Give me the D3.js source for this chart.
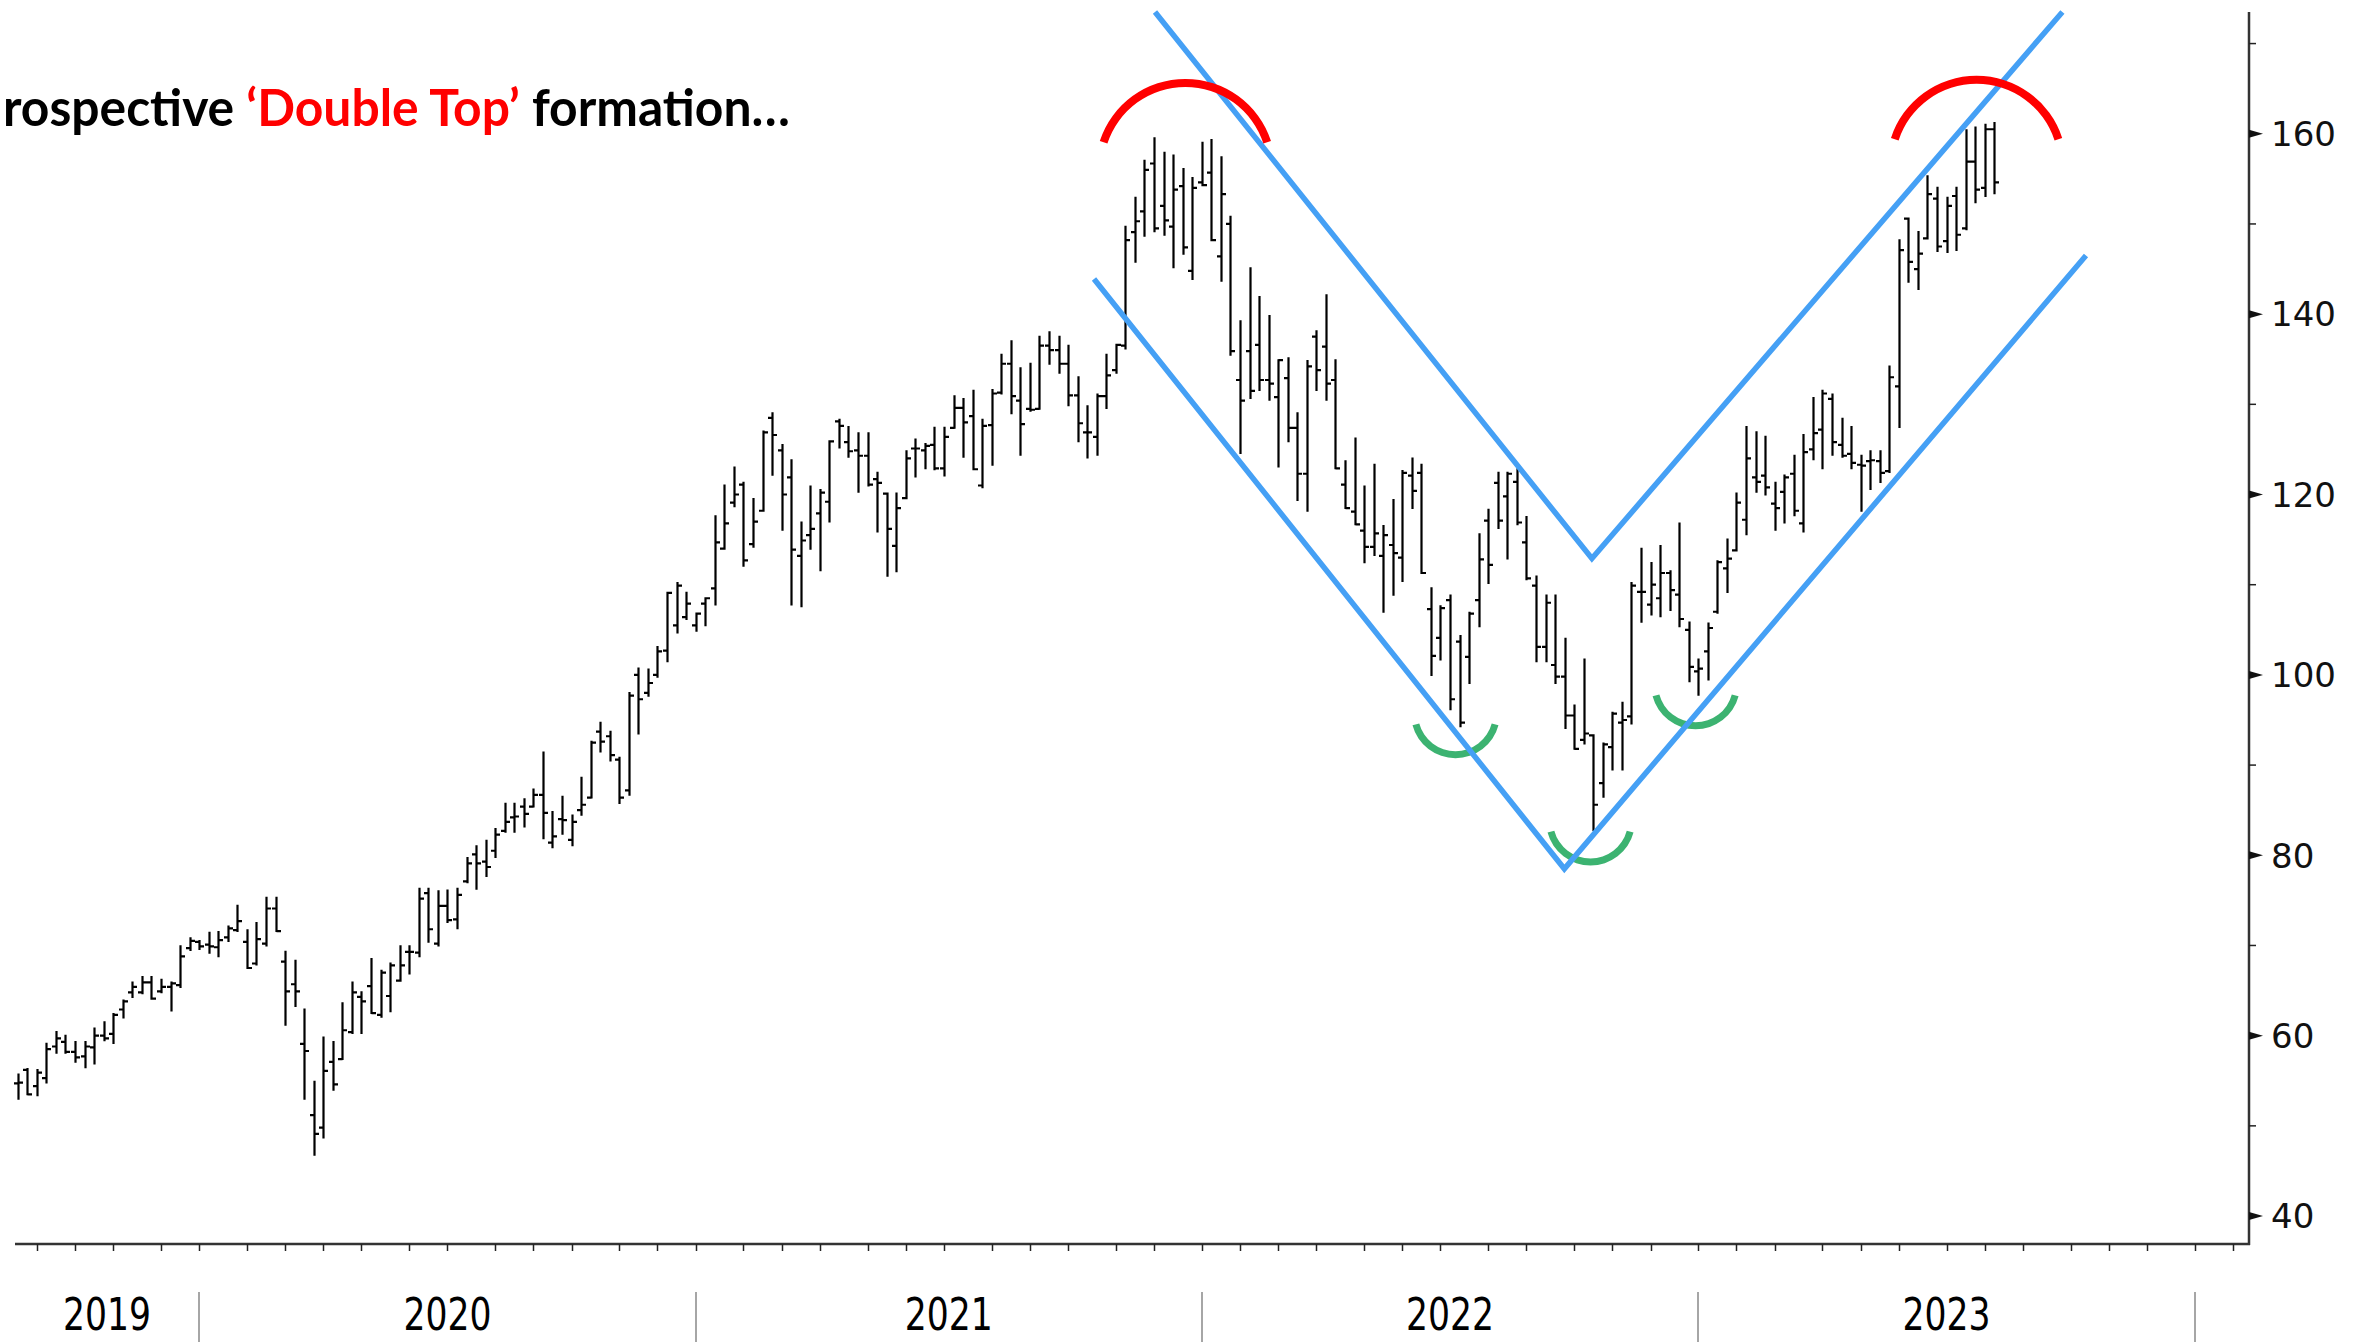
<!DOCTYPE html>
<html>
<head>
<meta charset="utf-8">
<script src="https://cdn.jsdelivr.net/npm/d3@7"></script>
<style>
  html, body { margin: 0; padding: 0; background: #fff; }
  svg { display: block; }
</style>
</head>
<body>
<div id="chart"></div>
<script>
// weekly bars, one per Friday from 23 Aug 2019
const firstWeek = new Date(2019, 7, 23);

const opens = [
  54.7, 56.2, 54.4, 55.3, 58.8, 59.3, 58.2, 57.7, 58.7, 60.0,
  60.2, 62.9, 64.8, 64.8, 65.9, 64.9, 65.4, 65.6, 69.7, 70.4,
  70.1, 69.8, 70.9, 71.7, 70.4, 68.0, 70.2, 74.1, 68.2, 65.7,
  59.1, 51.2, 49.8, 57.1, 57.4, 60.4, 64.3, 65.5, 62.3, 64.4,
  66.1, 69.3, 69.2, 75.8, 70.2, 74.4, 72.9, 77.1, 80.1, 79.3,
  80.5, 82.7, 84.2, 85.4, 85.4, 86.7, 81.4, 84.0, 81.7, 85.0,
  86.4, 93.7, 93.2, 90.6, 87.2, 100.0, 98.0, 100.0, 102.7, 105.5,
  106.4, 105.5, 107.9, 109.6, 114.0, 119.1, 121.1, 114.5, 118.2, 128.5,
  124.9, 121.9, 113.2, 115.5, 117.9, 119.2, 128.1, 125.8, 124.9, 124.3,
  121.7, 120.1, 114.3, 119.6, 125.1, 124.9, 125.5, 122.9, 127.4, 129.6,
  128.7, 121.0, 127.7, 131.3, 134.5, 130.4, 129.5, 129.5, 136.5, 136.0,
  134.5, 131.0, 126.9, 126.4, 130.9, 133.8, 136.5, 149.1, 151.4, 156.7,
  152.0, 149.7, 154.2, 144.8, 154.6, 155.7, 146.4, 150.0, 132.7, 135.9,
  136.6, 132.7, 130.8, 132.9, 127.4, 122.3, 137.5, 136.4, 132.7, 121.1,
  118.1, 116.0, 114.2, 113.2, 114.4, 113.0, 122.1, 122.4, 107.3, 104.1,
  108.3, 103.7, 102.0, 108.3, 117.1, 121.3, 119.8, 121.4, 114.7, 109.9,
  103.1, 101.1, 99.8, 95.5, 92.8, 93.3, 88.0, 92.0, 94.7, 95.4,
  109.2, 107.8, 108.5, 111.3, 108.9, 105.0, 100.4, 102.6, 107.0, 111.8,
  113.8, 117.2, 121.9, 122.1, 119.0, 120.3, 122.3, 116.8, 125.0, 127.2,
  130.6, 125.5, 124.5, 123.3, 123.7, 123.7, 122.6, 132.0, 150.6, 145.0,
  148.4, 152.8, 148.1, 153.1, 149.5, 156.9, 154.0, 160.5
];
const highs = [
  55.7, 56.3, 56.2, 59.1, 60.4, 60.0, 59.3, 59.3, 60.8, 61.5,
  62.4, 63.9, 65.9, 66.5, 66.5, 66.2, 65.9, 69.9, 70.8, 70.5,
  71.4, 71.5, 72.1, 74.4, 71.7, 72.5, 75.3, 75.3, 69.3, 68.3,
  62.9, 54.9, 59.8, 59.3, 63.6, 65.9, 64.8, 68.5, 67.2, 68.0,
  69.9, 69.9, 76.3, 76.3, 76.0, 76.1, 76.3, 79.7, 81.0, 81.6,
  82.9, 85.7, 85.7, 86.2, 87.3, 91.4, 84.8, 86.5, 84.4, 88.6,
  92.6, 94.7, 93.7, 90.8, 98.0, 100.7, 100.6, 103.1, 109.1, 110.2,
  109.1, 106.8, 108.5, 117.6, 121.0, 123.0, 121.3, 119.5, 127.0, 129.0,
  125.5, 123.8, 116.9, 120.9, 120.5, 125.9, 128.3, 127.5, 126.8, 126.8,
  122.4, 120.1, 120.1, 124.8, 126.1, 125.6, 127.4, 127.4, 130.9, 130.6,
  131.5, 128.3, 131.6, 135.5, 137.0, 134.0, 134.5, 137.5, 138.0, 137.5,
  136.5, 133.0, 129.8, 131.1, 135.5, 136.6, 149.7, 152.9, 157.0, 159.5,
  157.9, 157.6, 156.1, 155.1, 159.0, 159.3, 157.4, 150.8, 139.2, 145.1,
  141.9, 139.8, 134.9, 135.1, 129.0, 134.8, 138.1, 142.1, 134.9, 123.7,
  126.2, 120.9, 123.3, 116.5, 119.4, 122.6, 124.0, 123.3, 109.6, 107.6,
  108.8, 104.3, 106.9, 115.6, 118.3, 122.4, 122.4, 122.8, 117.5, 110.9,
  108.8, 108.8, 104.0, 96.6, 101.7, 93.3, 92.4, 95.8, 96.9, 110.2,
  114.0, 112.4, 114.3, 111.5, 116.8, 105.8, 101.7, 105.7, 112.6, 115.0,
  120.1, 127.5, 126.9, 126.4, 121.3, 122.1, 124.3, 126.6, 130.7, 131.5,
  131.1, 128.4, 127.5, 124.3, 124.8, 124.8, 134.2, 148.2, 150.6, 149.1,
  155.3, 154.0, 152.9, 154.0, 160.4, 160.7, 161.0, 161.2
];
const lows = [
  53.0, 53.5, 53.4, 54.8, 58.1, 58.1, 57.1, 56.5, 56.9, 59.5,
  59.2, 62.0, 64.3, 64.7, 64.1, 64.8, 62.8, 65.4, 69.5, 69.6,
  69.2, 68.8, 70.5, 71.6, 67.5, 67.9, 70.0, 71.6, 61.2, 63.3,
  53.0, 46.8, 48.7, 54.0, 57.4, 60.3, 60.3, 62.5, 62.1, 62.7,
  66.1, 66.9, 68.8, 70.4, 70.0, 72.6, 71.9, 77.0, 76.3, 77.7,
  79.8, 82.6, 82.6, 83.2, 85.4, 81.9, 80.9, 82.4, 81.1, 84.5,
  86.4, 91.5, 90.5, 85.8, 86.7, 93.5, 97.7, 99.8, 101.5, 104.7,
  106.2, 104.9, 105.5, 107.8, 114.0, 118.7, 112.1, 114.2, 118.2, 122.2,
  116.1, 107.8, 107.6, 114.0, 111.6, 117.0, 125.2, 124.2, 120.3, 121.0,
  115.9, 111.0, 111.5, 119.6, 122.0, 122.9, 122.8, 122.1, 127.4, 124.2,
  122.8, 120.8, 123.3, 131.2, 129.0, 124.4, 129.3, 129.5, 134.5, 133.5,
  129.9, 125.9, 124.1, 124.4, 129.6, 133.5, 136.2, 145.8, 148.7, 149.2,
  148.8, 145.2, 146.7, 143.9, 154.3, 148.2, 143.7, 135.5, 124.6, 130.7,
  131.6, 130.5, 123.1, 125.9, 119.4, 118.2, 131.6, 130.5, 122.9, 118.5,
  116.7, 112.5, 113.3, 107.0, 108.9, 110.4, 118.5, 111.3, 100.0, 101.7,
  96.2, 94.3, 99.1, 105.4, 110.2, 116.3, 112.9, 116.7, 110.6, 101.5,
  101.5, 99.1, 94.1, 91.8, 92.4, 82.8, 86.5, 89.5, 89.5, 94.6,
  105.9, 106.7, 106.5, 107.2, 105.4, 99.3, 97.8, 99.5, 106.9, 109.2,
  113.8, 115.6, 120.3, 120.0, 116.1, 116.9, 117.7, 115.9, 123.9, 122.9,
  124.4, 124.2, 122.9, 118.2, 120.6, 121.4, 122.5, 127.5, 143.6, 142.8,
  148.4, 147.0, 146.9, 147.1, 149.4, 152.4, 153.1, 153.4
];
const closes = [
  54.8, 53.5, 55.9, 58.5, 59.7, 58.2, 57.6, 58.8, 60.0, 59.7,
  62.3, 63.8, 65.4, 65.9, 64.1, 65.4, 65.8, 68.8, 70.5, 69.9,
  69.9, 70.6, 71.9, 72.7, 67.5, 70.7, 74.1, 71.6, 64.9, 64.9,
  58.3, 49.1, 56.1, 54.6, 60.6, 64.8, 63.8, 62.5, 67.0, 67.8,
  67.8, 69.3, 75.2, 71.8, 74.4, 72.8, 75.6, 79.1, 79.1, 78.7,
  82.3, 83.7, 84.3, 84.6, 86.7, 84.7, 82.1, 83.9, 83.7, 85.6,
  92.5, 92.6, 91.1, 86.4, 97.7, 97.3, 99.1, 102.6, 109.1, 109.9,
  107.9, 106.8, 108.5, 114.7, 116.8, 120.0, 112.7, 117.0, 126.9, 126.6,
  120.0, 113.9, 114.9, 116.2, 120.2, 125.9, 127.6, 124.8, 124.3, 121.1,
  121.3, 116.2, 118.5, 124.0, 125.1, 125.4, 122.9, 126.4, 129.6, 128.0,
  122.8, 127.6, 131.2, 134.5, 130.9, 127.8, 129.4, 136.5, 136.0, 134.5,
  131.0, 127.9, 126.9, 130.9, 133.2, 136.6, 148.2, 150.3, 156.0, 149.5,
  150.4, 153.8, 147.4, 154.0, 154.3, 148.2, 153.3, 135.9, 130.4, 131.5,
  132.7, 132.3, 134.9, 127.4, 122.3, 134.2, 133.8, 132.3, 122.9, 118.5,
  116.7, 114.2, 115.7, 115.5, 113.5, 122.4, 120.4, 111.3, 102.1, 107.4,
  97.3, 94.7, 106.8, 112.8, 112.2, 117.1, 122.3, 116.9, 110.7, 103.1,
  108.0, 99.8, 95.5, 91.8, 93.5, 85.6, 92.3, 95.7, 95.0, 109.9,
  109.2, 110.0, 111.3, 109.4, 106.2, 100.9, 100.7, 105.2, 112.5, 112.9,
  119.1, 124.0, 121.4, 120.8, 118.5, 121.9, 118.2, 124.7, 126.8, 131.2,
  125.8, 124.3, 123.5, 123.2, 123.8, 122.4, 133.0, 147.1, 145.8, 146.7,
  153.3, 147.5, 152.0, 148.8, 156.9, 153.8, 160.5, 154.6
];

const yTicks = [40, 60, 80, 100, 120, 140, 160];
const yMinorTicks = [50, 70, 90, 110, 130, 150, 170];
const yearLabels = ['2019', '2020', '2021', '2022', '2023'];

// hand-drawn channel (two V shapes)
const channelUpper = [
  [new Date(2021, 11, 3, 17), 173.5],
  [new Date(2022, 9, 20), 112.9],
  [new Date(2023, 8, 29, 22), 173.5]
];
const channelLower = [
  [new Date(2021, 9, 20), 143.9],
  [new Date(2022, 8, 29, 19), 78.5],
  [new Date(2023, 9, 17, 5), 146.5]
];
// red caps over the two tops, green cups under the lows
const topCaps = [
  { date: new Date(2021, 11, 26), value: 156.1 },
  { date: new Date(2023, 6, 29), value: 156.45 }
];
const lowCups = [
  { date: new Date(2022, 6, 12), value: 95.7 },
  { date: new Date(2022, 9, 19), value: 83.8 },
  { date: new Date(2023, 0, 4), value: 98.9 }
];

const bars = opens.map((o, i) => ({
  date: d3.timeDay.offset(firstWeek, 7 * i),
  open: o, high: highs[i], low: lows[i], close: closes[i]
}));

const width = 2362, height = 1342;
const plot = { left: 15, right: 2249, top: 12, bottom: 1244 };

const svg = d3.select('#chart')
  .append('svg')
  .attr('width', width)
  .attr('height', height)
  .style('background', '#fff');

const x = d3.scaleTime()
  .domain([new Date(2019, 7, 21), new Date(2024, 1, 13, 17)])
  .range([plot.left, plot.right]);

const y = d3.scaleLinear()
  .domain([36.9, 173.5])
  .range([plot.bottom, plot.top]);

// ----- bars (OHLC)
const barG = svg.append('g')
  .attr('stroke', '#000')
  .attr('stroke-width', 2.2)
  .attr('fill', 'none');

const tick = 4.5;
barG.selectAll('path')
  .data(bars)
  .join('path')
  .attr('d', (d) => {
    const cx = Math.round(x(d.date)) + 0.5;
    return `M${cx},${y(d.high) - 1}V${y(d.low) + 1}` +
      `M${cx - tick},${y(d.open)}H${cx}` +
      `M${cx},${y(d.close)}H${cx + tick}`;
  });

// ----- green cups, blue channel, red caps
const cupArc = d3.arc()
  .innerRadius(37.5)
  .outerRadius(44.5)
  .startAngle((105 * Math.PI) / 180)
  .endAngle((255 * Math.PI) / 180);

svg.append('g')
  .selectAll('path')
  .data(lowCups)
  .join('path')
  .attr('transform', (d) => `translate(${x(d.date)},${y(d.value)})`)
  .attr('d', cupArc())
  .attr('fill', '#3cb371');

const line = d3.line()
  .x((d) => x(d[0]))
  .y((d) => y(d[1]));

svg.append('g')
  .selectAll('path')
  .data([channelUpper, channelLower])
  .join('path')
  .attr('d', line)
  .attr('fill', 'none')
  .attr('stroke', '#45a0f5')
  .attr('stroke-width', 5.5)
  .attr('stroke-linejoin', 'miter');

const capArc = d3.arc()
  .innerRadius(82)
  .outerRadius(90)
  .startAngle((-72 * Math.PI) / 180)
  .endAngle((72 * Math.PI) / 180);

svg.append('g')
  .selectAll('path')
  .data(topCaps)
  .join('path')
  .attr('transform', (d) => `translate(${x(d.date)},${y(d.value)})`)
  .attr('d', capArc())
  .attr('fill', '#ff0000');

// ----- right axis
const axisG = svg.append('g');
axisG.append('line')
  .attr('x1', plot.right).attr('x2', plot.right)
  .attr('y1', plot.top).attr('y2', plot.bottom + 1)
  .attr('stroke', '#333')
  .attr('stroke-width', 2.5);

axisG.selectAll('.major')
  .data(yTicks)
  .join('path')
  .attr('class', 'major')
  .attr('d', (d) => `M${plot.right},${y(d) - 4}L${plot.right + 14},${y(d)}L${plot.right},${y(d) + 4}Z`)
  .attr('fill', '#111');

axisG.selectAll('.minor')
  .data(yMinorTicks)
  .join('line')
  .attr('class', 'minor')
  .attr('x1', plot.right).attr('x2', plot.right + 7)
  .attr('y1', (d) => y(d)).attr('y2', (d) => y(d))
  .attr('stroke', '#222')
  .attr('stroke-width', 1.5);

axisG.selectAll('.ylab')
  .data(yTicks)
  .join('text')
  .attr('class', 'ylab')
  .attr('x', plot.right + 22)
  .attr('y', (d) => y(d))
  .attr('dy', '0.36em')
  .attr('font-family', 'DejaVu Sans, Verdana, sans-serif')
  .attr('font-size', 34)
  .attr('fill', '#111')
  .text((d) => d);

// ----- bottom axis
axisG.append('line')
  .attr('x1', plot.left).attr('x2', plot.right + 1)
  .attr('y1', plot.bottom).attr('y2', plot.bottom)
  .attr('stroke', '#333')
  .attr('stroke-width', 2.5);

// month ticks sit on the first weekly bar of each month
const monthTicks = d3.timeMonth
  .range(d3.timeMonth.ceil(x.domain()[0]), x.domain()[1])
  .map((m) => d3.timeFriday.ceil(m))
  .filter((d) => d <= x.domain()[1]);

axisG.selectAll('.mtick')
  .data(monthTicks)
  .join('line')
  .attr('class', 'mtick')
  .attr('x1', (d) => Math.round(x(d)) + 0.5)
  .attr('x2', (d) => Math.round(x(d)) + 0.5)
  .attr('y1', plot.bottom)
  .attr('y2', plot.bottom + 7)
  .attr('stroke', '#222')
  .attr('stroke-width', 1.5);

// year separators and labels
const yearStarts = d3.timeYear
  .range(d3.timeYear.ceil(x.domain()[0]), x.domain()[1])
  .map((d) => d3.timeFriday.ceil(d));

axisG.selectAll('.ysep')
  .data(yearStarts)
  .join('line')
  .attr('class', 'ysep')
  .attr('x1', (d) => Math.round(x(d)))
  .attr('x2', (d) => Math.round(x(d)))
  .attr('y1', 1292)
  .attr('y2', height)
  .attr('stroke', '#a6a6a6')
  .attr('stroke-width', 2);

const edges = [plot.left, ...yearStarts.map((d) => x(d))];
axisG.selectAll('.xlab')
  .data(yearLabels)
  .join('text')
  .attr('class', 'xlab')
  .attr('x', (d, i) => (edges[i] + edges[i + 1]) / 2)
  .attr('y', 1330)
  .attr('text-anchor', 'middle')
  .attr('font-family', 'DejaVu Sans, Verdana, sans-serif')
  .attr('font-size', 45)
  .attr('textLength', 88)
  .attr('lengthAdjust', 'spacingAndGlyphs')
  .attr('fill', '#000')
  .text((d) => d);

// ----- title (cut at the left edge as in the source slide)
const title = svg.append('text')
  .attr('x', 3)
  .attr('y', 126)
  .attr('font-family', 'Lato, Open Sans, sans-serif')
  .attr('font-weight', 700)
  .attr('font-size', 51)
  .attr('fill', '#000');
title.append('tspan').text('rospective ');
title.append('tspan').attr('fill', '#ff0000').text('\u2018Double Top\u2019');
title.append('tspan').text(' formation\u2026');

const tw = title.node().getComputedTextLength();
title.attr('transform', `translate(3,0) scale(${787 / tw},1) translate(-3,0)`);
</script>
</body>
</html>
